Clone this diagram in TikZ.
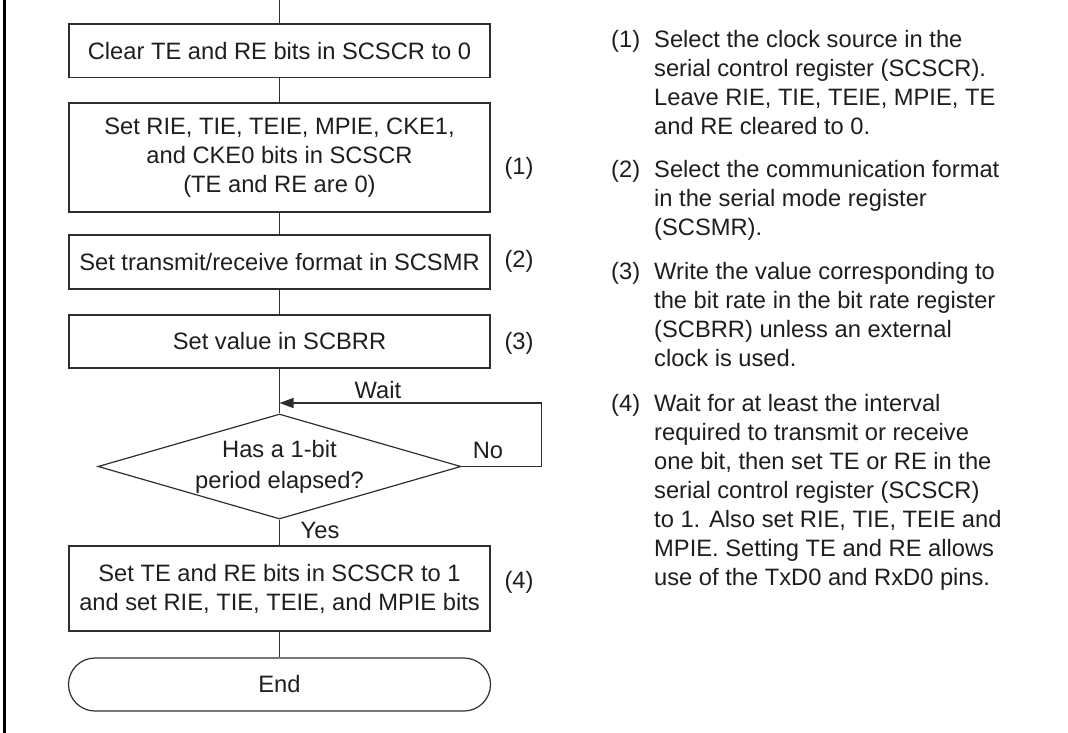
\documentclass[tikz,border=0pt]{standalone}
\usepackage{fontspec}
\setmainfont{Liberation Sans}
\usetikzlibrary{shapes.geometric,shapes.misc,arrows.meta}
\definecolor{txt}{HTML}{1E1E1E}
\definecolor{ln}{HTML}{2E2E2E}
\begin{document}
\begin{tikzpicture}[x=1pt,y=-1pt,
  every node/.style={font=\fontsize{23.7}{29}\selectfont, text=txt},
  procbox/.style={draw=ln, line width=1.2pt, minimum width=421pt, inner sep=0pt, align=center},
  decbox/.style={diamond, draw=ln, line width=1.2pt, inner sep=0pt, aspect=3.46, minimum width=363pt, minimum height=105pt, align=center, font=\fontsize{23.7}{31}\selectfont},
  termbox/.style={rounded rectangle, draw=ln, line width=1.2pt, minimum width=422pt, minimum height=53pt, inner sep=0pt},
  conn/.style={draw=ln, line width=1.2pt},
  steplabel/.style={anchor=center, inner sep=0pt},
  para/.style={anchor=north west, align=left, inner sep=0pt},
  parnum/.style={anchor=north west, inner sep=0pt}
]
\useasboundingbox (0,0) rectangle (1068,733);
\draw[draw=black, line width=3pt] (4.5,0) -- (4.5,733);

\node[procbox, minimum height=53.5pt] (b1) at (279.5,50.75) {Clear TE and RE bits in SCSCR to 0};
\node[procbox, minimum height=109pt] (b2) at (279.5,157.5) {Set RIE, TIE, TEIE, MPIE, CKE1,\\ and CKE0 bits in SCSCR\\ (TE and RE are 0)};
\node[procbox, minimum height=54pt] (b3) at (279.5,262) {Set transmit/receive format in SCSMR};
\node[procbox, minimum height=53pt] (b4) at (279.5,341.5) {Set value in SCBRR};
\node[decbox] (dia) at (279.5,466.5) {Has a 1-bit\\ period elapsed?};
\node[procbox, minimum height=85pt] (b5) at (279.5,588.5) {Set TE and RE bits in SCSCR to 1\\ and set RIE, TIE, TEIE, and MPIE bits};
\node[termbox] (end) at (279.5,684.5) {End};

\coordinate (top) at (279.5,0);
\coordinate (wj) at (279.5,403);
\draw[conn] (top) -- (b1.north);
\draw[conn] (b1.south) -- (b2.north);
\draw[conn] (b2.south) -- (b3.north);
\draw[conn] (b3.south) -- (b4.north);
\draw[conn] (b4.south) -- (dia.north);
\draw[conn, -{Triangle[length=14pt,width=10pt]}] (dia.east) -- ++(80,0) |- (wj);
\draw[conn] (dia.south) -- (b5.north);
\draw[conn] (b5.south) -- (end.north);

\node[steplabel] (lwait) at (378,390) {Wait};
\node[steplabel] (lno) at (488,450) {No};
\node[steplabel] (lyes) at (320,530) {Yes};

\node[steplabel] (s1) at (519,168) {(1)};
\node[steplabel] (s2) at (519,261) {(2)};
\node[steplabel] (s3) at (519,343) {(3)};
\node[steplabel] (s4) at (519,582) {(4)};

\node[parnum] (n1) at (611,26.7) {\strut(1)};
\node[para] (p1) at (654,26.7) {\strut Select the clock source in the\\ serial control register (SCSCR).\\ Leave RIE, TIE, TEIE, MPIE, TE\\ and RE cleared to 0.};
\node[parnum] (n2) at (611,156.7) {\strut(2)};
\node[para] (p2) at (654,156.7) {\strut Select the communication format\\ in the serial mode register\\ (SCSMR).};
\node[parnum] (n3) at (611,259.2) {\strut(3)};
\node[para] (p3) at (654,259.2) {\strut Write the value corresponding to\\ the bit rate in the bit rate register\\ (SCBRR) unless an external\\ clock is used.};
\node[parnum] (n4) at (611,390.7) {\strut(4)};
\node[para] (p4) at (654,390.7) {\strut Wait for at least the interval\\ required to transmit or receive\\ one bit, then set TE or RE in the\\ serial control register (SCSCR)\\ to 1. Also set RIE, TIE, TEIE and\\ MPIE. Setting TE and RE allows\\ use of the TxD0 and RxD0 pins.};
\end{tikzpicture}
\end{document}
